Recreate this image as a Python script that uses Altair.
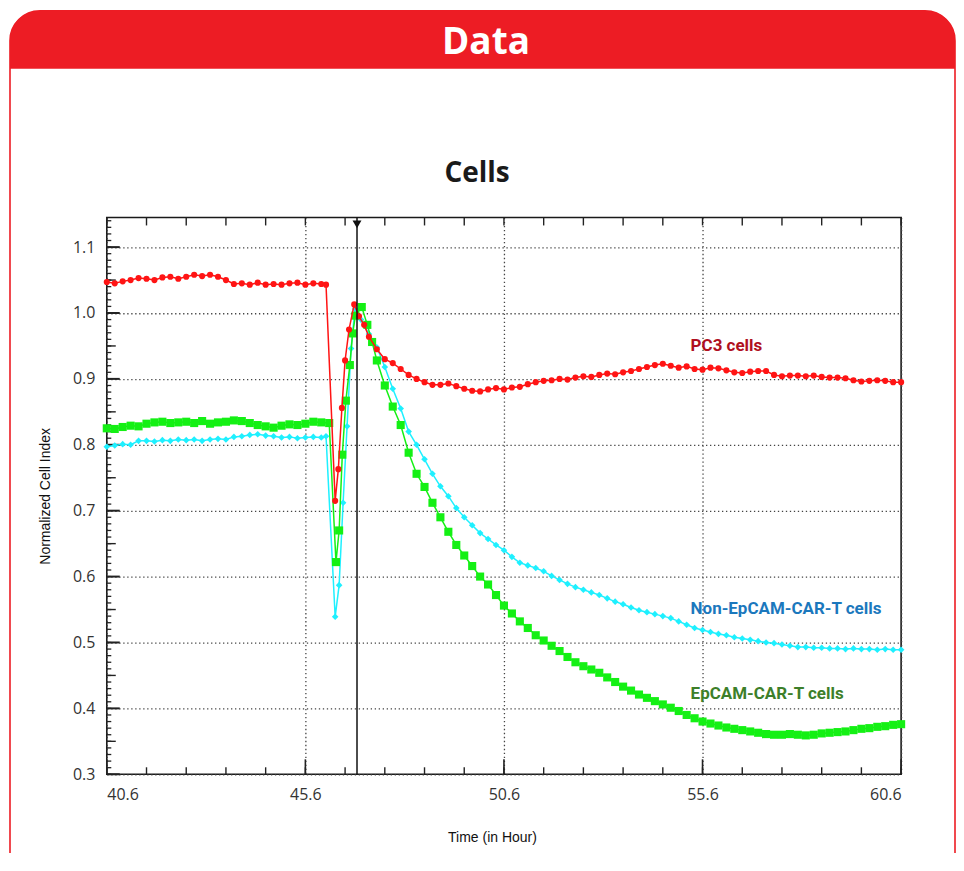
import altair as alt
import numpy as np
import pandas as pd

# ---------------- data ----------------
SERIES = ["Non-EpCAM-CAR-T cells", "EpCAM-CAR-T cells", "PC3 cells"]
COLORS = ["#1ef0ff", "#14f014", "#ff1414"]
SHAPES = ["diamond", "square", "circle"]
SIZES = [44, 66, 38]

PRE_START = 40.6   # regular 0.2 h sampling before the medium change
POST_START = 47.4  # regular 0.2 h sampling after the peak
STEP = 0.2

pc3_pre = [1.047, 1.045, 1.048, 1.050, 1.053, 1.052, 1.050, 1.054, 1.055, 1.052,
           1.055, 1.058, 1.056, 1.058, 1.055, 1.050, 1.044, 1.045, 1.043, 1.046,
           1.043, 1.044, 1.043, 1.045, 1.046, 1.043, 1.045, 1.044]
pc3_drop_t = [46.12, 46.35, 46.43, 46.52, 46.60, 46.70, 46.83, 46.95, 47.08, 47.20]
pc3_drop_v = [1.043, 0.715, 0.763, 0.856, 0.928, 0.975, 1.013, 0.995, 0.982, 0.964]
pc3_post = [0.945, 0.930, 0.924, 0.915, 0.906, 0.900, 0.895, 0.891, 0.891, 0.893,
            0.889, 0.885, 0.882, 0.881, 0.884, 0.886, 0.884, 0.887, 0.888, 0.892,
            0.895, 0.897, 0.898, 0.900, 0.899, 0.902, 0.904, 0.903, 0.906, 0.908,
            0.907, 0.910, 0.912, 0.915, 0.918, 0.921, 0.923, 0.920, 0.917, 0.919,
            0.915, 0.914, 0.917, 0.916, 0.913, 0.910, 0.909, 0.911, 0.912, 0.912,
            0.906, 0.904, 0.905, 0.905, 0.904, 0.905, 0.903, 0.902, 0.902, 0.901,
            0.898, 0.896, 0.897, 0.898, 0.897, 0.895, 0.895]

non_pre = [0.797, 0.799, 0.801, 0.800, 0.806, 0.806, 0.805, 0.807, 0.806, 0.808,
           0.807, 0.808, 0.806, 0.808, 0.809, 0.808, 0.812, 0.813, 0.815, 0.816,
           0.814, 0.813, 0.811, 0.812, 0.810, 0.811, 0.812, 0.811]
non_drop_t = [46.12, 46.35, 46.45, 46.55, 46.65, 46.75, 46.85, 47.00, 47.20]
non_drop_v = [0.813, 0.539, 0.587, 0.712, 0.828, 0.946, 1.006, 0.990, 0.968]
non_post = [0.948, 0.918, 0.885, 0.855, 0.820, 0.800, 0.778, 0.756, 0.737, 0.722,
            0.704, 0.690, 0.678, 0.666, 0.657, 0.648, 0.640, 0.630, 0.621, 0.617,
            0.613, 0.608, 0.601, 0.595, 0.589, 0.584, 0.580, 0.576, 0.572, 0.567,
            0.562, 0.558, 0.553, 0.549, 0.546, 0.543, 0.540, 0.537, 0.532, 0.527,
            0.522, 0.519, 0.516, 0.513, 0.511, 0.508, 0.506, 0.504, 0.502, 0.500,
            0.499, 0.497, 0.495, 0.493, 0.493, 0.492, 0.492, 0.491, 0.491, 0.490,
            0.491, 0.490, 0.490, 0.489, 0.490, 0.489, 0.489]

ep_pre = [0.825, 0.824, 0.827, 0.829, 0.828, 0.832, 0.834, 0.835, 0.833, 0.834,
          0.835, 0.833, 0.836, 0.832, 0.834, 0.835, 0.837, 0.836, 0.833, 0.830,
          0.828, 0.826, 0.829, 0.831, 0.830, 0.832, 0.835, 0.834]
ep_drop_t = [46.20, 46.37, 46.45, 46.53, 46.62, 46.72, 46.79, 46.86, 47.02, 47.16, 47.28]
ep_drop_v = [0.833, 0.622, 0.670, 0.785, 0.867, 0.921, 0.969, 0.996, 1.009, 0.982, 0.956]
ep_post = [0.928, 0.890, 0.858, 0.830, 0.788, 0.756, 0.736, 0.712, 0.690, 0.668,
           0.648, 0.632, 0.616, 0.600, 0.588, 0.572, 0.556, 0.544, 0.532, 0.522,
           0.511, 0.503, 0.495, 0.487, 0.478, 0.470, 0.464, 0.459, 0.454, 0.447,
           0.440, 0.433, 0.427, 0.421, 0.416, 0.411, 0.406, 0.401, 0.396, 0.390,
           0.385, 0.380, 0.377, 0.374, 0.371, 0.369, 0.367, 0.365, 0.363, 0.361,
           0.360, 0.360, 0.361, 0.360, 0.359, 0.360, 0.362, 0.363, 0.364, 0.365,
           0.367, 0.369, 0.370, 0.372, 0.373, 0.375, 0.376]

MARKER_TIME = [46.9]
X_TICKS = [40.6, 45.6, 50.6, 55.6, 60.6]
Y_TICKS = [0.3, 0.4, 0.5, 0.6, 0.7, 0.8, 0.9, 1.0, 1.1]
X_DOMAIN = [40.6, 60.6]
Y_DOMAIN = [0.3, 1.145]

LABELS = ["PC3 cells", "Non-EpCAM-CAR-T cells", "EpCAM-CAR-T cells"]
LABEL_X = [55.3, 55.3, 55.3]
LABEL_Y = [0.943, 0.5437, 0.4135]
LABEL_COLORS = ["#b0101e", "#1b78bd", "#3d7f2a"]

HEADER = "Data"
TITLE = "Cells"
X_TITLE = "Time (in Hour)"
Y_TITLE = "Normalized Cell Index"


def build(pre, drop_t, drop_v, post):
    t = list(np.round(PRE_START + STEP * np.arange(len(pre)), 2)) + drop_t + \
        list(np.round(POST_START + STEP * np.arange(len(post)), 2))
    v = pre + drop_v + post
    return t, v


frames = []
for name, parts in zip(SERIES, [(non_pre, non_drop_t, non_drop_v, non_post),
                                (ep_pre, ep_drop_t, ep_drop_v, ep_post),
                                (pc3_pre, pc3_drop_t, pc3_drop_v, pc3_post)]):
    t, v = build(*parts)
    frames.append(pd.DataFrame({"t": t, "v": v, "series": name}))

# ---------------- layout ----------------
W, H = 796, 558
PAD = {"left": 99, "top": 209, "right": 55, "bottom": 78}
FRAME_RED = "#ed1c24"

xscale = alt.Scale(domain=X_DOMAIN, nice=False, zero=False)
yscale = alt.Scale(domain=Y_DOMAIN, nice=False, zero=False)

XAX = alt.Axis(
    values=X_TICKS, format=".1f", title=X_TITLE, ticks=False, tickSize=0,
    domain=False, grid=True, labelPadding=12, labelFontSize=16,
    labelFont="Open Sans", labelColor="#333333",
    titleFont="Liberation Sans", titleFontSize=14, titleFontWeight="normal",
    titleColor="#111111", titleX=386, titleY=67, titleBaseline="alphabetic",
    titleAnchor="middle")
YAX = alt.Axis(
    values=Y_TICKS, format=".1f", title=Y_TITLE, ticks=False, tickSize=0,
    domain=False, grid=True, labelPadding=12, labelFontSize=16,
    labelFont="Open Sans", labelColor="#333333",
    titleFont="Liberation Sans", titleFontSize=14, titleFontWeight="normal",
    titleColor="#111111", titleX=-61, titleY=279, titleBaseline="middle",
    titleAnchor="middle")


def X(field="t"):
    return alt.X(f"{field}:Q", scale=xscale, axis=XAX)


def Y(field="v"):
    return alt.Y(f"{field}:Q", scale=yscale, axis=YAX)


one = pd.DataFrame({"k": [0]})

# outer rounded panel and header band
panel = alt.Chart(one).mark_rect(
    fillOpacity=0, stroke=FRAME_RED, strokeWidth=1.6, cornerRadius=30
).encode(x=alt.value(-97), x2=alt.value(850), y=alt.value(-207), y2=alt.value(700))

header = alt.Chart(one).mark_rect(
    color=FRAME_RED, cornerRadiusTopLeft=30, cornerRadiusTopRight=30
).encode(x=alt.value(-97), x2=alt.value(850), y=alt.value(-207), y2=alt.value(-149))

header_text = alt.Chart(pd.DataFrame({"s": [HEADER]})).mark_text(
    font="Open Sans", fontWeight="bold", fontSize=37, color="white",
    align="center", baseline="alphabetic"
).encode(x=alt.value(380), y=alt.value(-164), text="s:N")

title_text = alt.Chart(pd.DataFrame({"s": [TITLE]})).mark_text(
    font="Open Sans", fontWeight="bold", fontSize=28, color="#1a1a1a",
    align="center", baseline="alphabetic"
).encode(x=alt.value(371), y=alt.value(-36), text="s:N")

# inward tick marks
y_major = Y_TICKS
y_mid = [0.35, 0.45, 0.55, 0.65, 0.75, 0.85, 0.95, 1.05]
y_minor = list(np.round(np.arange(30, 115) / 100.0, 2))
x_major = X_TICKS
x_minor = list(np.round(40.6 + np.arange(0, 21), 1))


def ytick(vals, length, width):
    return alt.Chart(pd.DataFrame({"v": vals})).mark_rule(color="#222222", strokeWidth=width).encode(
        y=Y(), x=alt.value(0), x2=alt.value(length))


def xtick(vals, y0, y1, width):
    return alt.Chart(pd.DataFrame({"t": vals})).mark_rule(color="#222222", strokeWidth=width).encode(
        x=X(), y=alt.value(y0), y2=alt.value(y1))


ticks = [
    ytick(y_minor, 4.5, 1.3), ytick(y_mid, 9, 1.4), ytick(y_major, 13, 2),
    xtick(x_minor, H, H - 7, 1.4), xtick(x_major, H, H - 15, 1.6),
    xtick(x_minor, 0, 8, 1.4),
]

# data series
series_layers = []
for df, col, shp, sz in zip(frames, COLORS, SHAPES, SIZES):
    base = alt.Chart(df).encode(x=X(), y=Y())
    series_layers.append(base.mark_line(color=col, strokeWidth=1.5))
    series_layers.append(base.mark_point(color=col, shape=shp, size=sz, filled=True, opacity=1))

marker_df = pd.DataFrame({"t": MARKER_TIME})
marker_rule = alt.Chart(marker_df).mark_rule(color="#111111", strokeWidth=1.5).encode(x=X())
marker_tri = alt.Chart(marker_df).mark_point(
    shape="triangle-down", filled=True, color="#111111", size=80, opacity=1
).encode(x=X(), y=alt.value(7))

lab_df = pd.DataFrame({"t": LABEL_X, "v": LABEL_Y, "s": LABELS, "c": LABEL_COLORS})
labels = alt.Chart(lab_df).mark_text(
    font="Roboto", fontWeight="bold", fontSize=17, align="left", baseline="alphabetic"
).encode(
    x=X(), y=Y(), text="s:N",
    color=alt.Color("c:N", scale=None, legend=None),
)

chart = alt.layer(
    panel, header, header_text, title_text, *ticks,
    *series_layers, marker_rule, marker_tri, labels
).properties(
    width=W, height=H, padding=PAD, autosize=alt.AutoSizeParams(type="none")
).configure(background="white").configure_view(
    stroke="#1a1a1a", strokeWidth=1.6
).configure_axis(
    gridColor="#444444", gridDash=[1.3, 2.7], gridWidth=1.3, gridOpacity=1
)

chart.save("out.html", embed_options={"renderer": "svg", "actions": False})
